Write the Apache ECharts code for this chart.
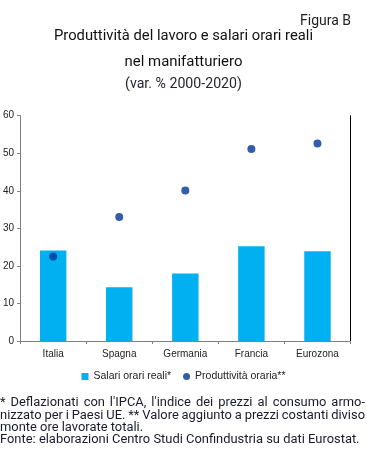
<!DOCTYPE html>
<html><head><meta charset="utf-8">
<script src="https://cdn.jsdelivr.net/npm/echarts@6/dist/echarts.min.js"></script>
<style>html,body{margin:0;padding:0;background:#fff}#c{width:367px;height:452px}</style>
</head><body><div id="c"></div>
<script>
const categories = ['Italia', 'Spagna', 'Germania', 'Francia', 'Eurozona'];
const salari = [24.1, 14.3, 18.0, 25.2, 23.9];
const produttivita = [22.5, 33.0, 40.1, 51.1, 52.6];
const yTicks = [0, 10, 20, 30, 40, 50, 60];
const seriesNames = ['Salari orari reali*', 'Produttività oraria**'];
const titleLines = ['Produttività del lavoro e salari orari reali', 'nel manifatturiero', '(var. % 2000-2020)'];
const footLines = [
  "* Deflazionati con l'IPCA, l'indice dei prezzi al consumo armo-",
  "nizzato per i Paesi UE. ** Valore aggiunto a prezzi costanti diviso",
  "monte ore lavorate totali.",
  "Fonte: elaborazioni Centro Studi Confindustria su dati Eurostat."
];

const chart = echarts.init(document.getElementById('c'), null, {renderer: 'canvas'});
const tf = 'Roboto, "Noto Sans", sans-serif';
const af = '"Liberation Sans", Arial, sans-serif';

const canvas = document.createElement('canvas');
const ctx = canvas.getContext('2d');
function fitSize(text, target) {
  ctx.font = '20px Roboto';
  return Math.min(17, 20 * target / ctx.measureText(text).width);
}
const t1 = fitSize(titleLines[0], 259);
const t2 = fitSize(titleLines[1], 118);
const t3 = fitSize(titleLines[2], 117);
const fs = fitSize(footLines[3], 360);

const graphics = [];
ctx.font = fs + 'px Roboto';
footLines.forEach((line, i) => {
  const y = 403 + i * 12.3;
  const justify = i < 2;
  if (!justify) {
    graphics.push({type: 'text', x: 0, y: y, style: {text: line, font: fs + 'px ' + tf, fill: '#1a1a2e', verticalAlign: 'middle'}});
    return;
  }
  const words = line.split(' ');
  const widths = words.map(w => ctx.measureText(w).width);
  const total = widths.reduce((a, b) => a + b, 0);
  const gap = (365 - total) / (words.length - 1);
  let x = 0;
  words.forEach((w, k) => {
    graphics.push({type: 'text', x: x, y: y, style: {text: w, font: fs + 'px ' + tf, fill: '#1a1a2e', verticalAlign: 'middle'}});
    x += widths[k] + gap;
  });
});

chart.setOption({
  animation: false,
  textStyle: {fontFamily: af},
  title: [
    {text: 'Figura B', right: 11, top: 9, textStyle: {fontFamily: tf, fontSize: 14, fontWeight: 'normal', color: '#222'}},
    {text: titleLines[0], left: 'center', top: 24, textStyle: {fontFamily: tf, fontSize: t1, fontWeight: 'normal', color: '#111'}},
    {text: titleLines[1], left: 'center', top: 50, textStyle: {fontFamily: tf, fontSize: t2, fontWeight: 'normal', color: '#111'}},
    {text: titleLines[2], left: 'center', top: 72, textStyle: {fontFamily: tf, fontSize: t3, fontWeight: 'normal', color: '#2a2230'}}
  ],
  legend: {
    top: 366, left: 'center', itemGap: 12, itemWidth: 7, itemHeight: 7,
    textStyle: {fontFamily: af, fontSize: 10.5, color: '#222'},
    data: [{name: seriesNames[0], icon: 'rect'}, {name: seriesNames[1], icon: 'circle'}]
  },
  grid: {left: 19.5, right: 16.5, top: 115.7, bottom: 111, containLabel: false},
  xAxis: [
    {type: 'category', data: categories, boundaryGap: true,
     axisLine: {lineStyle: {color: '#404040', width: 1}},
     axisTick: {show: true, inside: false, length: 3, alignWithLabel: false, lineStyle: {color: '#808080'}},
     axisLabel: {fontFamily: af, fontSize: 10, color: '#222', margin: 8}},
    {type: 'category', data: categories, position: 'top', axisLine: {lineStyle: {color: '#808080'}}, axisTick: {show: false}, axisLabel: {show: false}}
  ],
  yAxis: [
    {type: 'value', min: yTicks[0], max: yTicks[yTicks.length - 1], interval: 10,
     axisLine: {show: true, lineStyle: {color: '#808080'}},
     axisTick: {show: true, length: 3, lineStyle: {color: '#808080'}},
     splitLine: {show: false},
     axisLabel: {fontFamily: af, fontSize: 10, color: '#222', margin: 6}},
    {type: 'value', min: 0, max: 60, position: 'right', axisLine: {show: true, lineStyle: {color: '#000'}}, axisTick: {show: false}, axisLabel: {show: false}, splitLine: {show: false}}
  ],
  series: [
    {name: seriesNames[0], type: 'bar', data: salari, barWidth: '40%', itemStyle: {color: '#00B0F0'}},
    {name: seriesNames[1], type: 'scatter', data: produttivita, symbol: 'circle', symbolSize: 8, itemStyle: {color: '#003399'}, z: 5}
  ],
  graphic: graphics
});
</script></body></html>
